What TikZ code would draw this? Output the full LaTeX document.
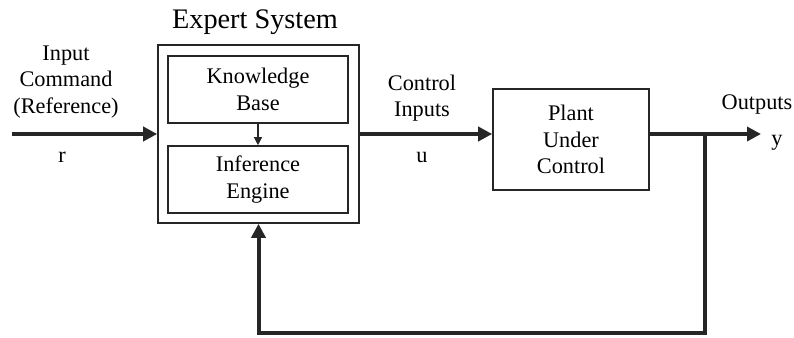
\documentclass[tikz,border=0pt]{standalone}
\usepackage{fontspec}
\setmainfont{Liberation Serif}
\usetikzlibrary{arrows.meta}
\begin{document}
\begin{tikzpicture}[x=1pt,y=-1pt,
  box/.style={draw=black!85,line width=1.6pt,minimum width=#1,inner sep=0pt,align=center,font=\fontsize{22.3}{26.5}\selectfont},
  lbl/.style={align=center,inner sep=0pt,font=\fontsize{22.3}{26.5}\selectfont},
  sig/.style={draw=black!85,line width=4pt,-{Triangle[length=14pt,width=14pt]}},
  fb/.style={draw=black!85,line width=4pt}]
\useasboundingbox (0,0) rectangle (794,337);
\node[box=201pt,minimum height=178pt] (es) at (258.5,134) {};
\node[box=180pt,minimum height=67pt] (kb) at (258,89.5) {Knowledge\\Base};
\node[box=180pt,minimum height=67pt] (ie) at (258,179.5) {Inference\\Engine};
\node[box=156pt,minimum height=101pt] (plant) at (571,139.5) {Plant\\Under\\Control};
\node[lbl,font=\fontsize{28.3}{33}\selectfont] (title) at (255,22) {Expert System};
\node[lbl] (inlbl) at (66,82) {Input\\Command\\(Reference)};
\node[lbl] (r) at (62,157) {r};
\node[lbl] (cilbl) at (422,98) {Control\\Inputs};
\node[lbl] (u) at (422,157) {u};
\node[lbl] (outlbl) at (757,104) {Outputs};
\node[lbl] (y) at (777,143) {y};
\coordinate (in) at (12,134);
\coordinate (out) at (761,134);
\coordinate (tap) at (705,134);
\coordinate (bot) at (705,333);
\draw[sig] (in) -- (es.west);
\draw[sig] (es.east) -- (es.east -| plant.west);
\draw[fb] (plant.east |- es.east) -- (tap);
\draw[sig] (tap) -- (out);
\draw[fb,line cap=rect] (tap) -- (bot) -- (bot -| es.south);
\draw[sig] (bot -| es.south) -- (es.south);
\draw[draw=black!85,line width=1.2pt,-{Triangle[length=8pt,width=8pt]}] (kb.south) -- (ie.north);
\end{tikzpicture}
\end{document}
